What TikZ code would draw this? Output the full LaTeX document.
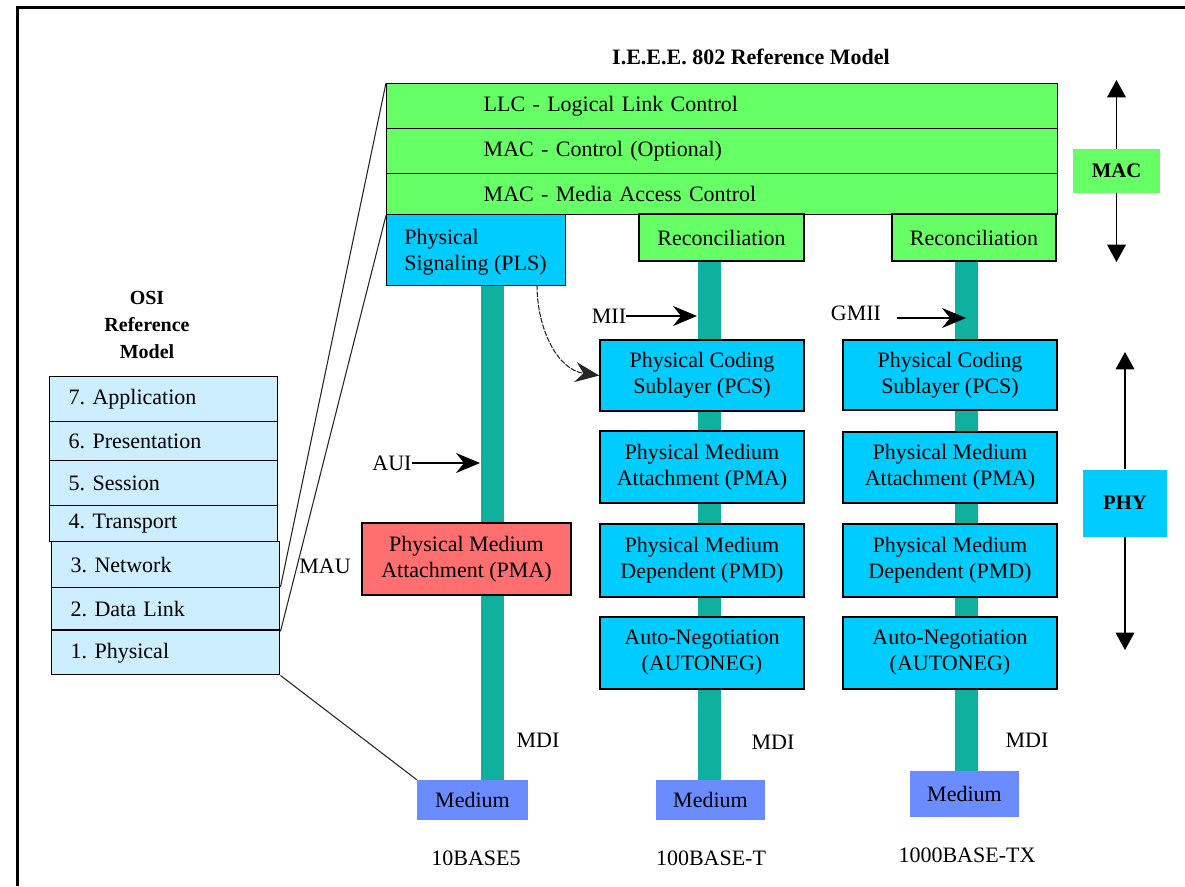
\documentclass[tikz,border=0pt]{standalone}
\usepackage{fontspec}
\setmainfont{Liberation Serif}
\usetikzlibrary{arrows.meta,calc,backgrounds}
\definecolor{macgreen}{HTML}{66FF66}
\definecolor{phyblue}{HTML}{00CCFF}
\definecolor{osiblue}{HTML}{CCEEFF}
\definecolor{medblue}{HTML}{6A8CFF}
\definecolor{maured}{HTML}{FF6F6F}
\definecolor{busteal}{HTML}{10B09E}
\frenchspacing

\tikzset{
  box/.style={draw=black, line width=1.1pt, align=center},
  layerrow/.style={box, fill=macgreen, anchor=north west, text width=357.75pt, inner xsep=72.75pt, align=left, minimum width=503.25pt},
  osirow/.style={box, fill=osiblue, anchor=north west, text width=142.5pt, inner xsep=14.25pt, align=left, minimum width=171pt},
  sublayer/.style={box, fill=phyblue},
  col2/.style={sublayer, minimum width=153pt},
  col3/.style={sublayer, minimum width=160.5pt},
  medium/.style={fill=medblue, align=center},
  bus/.style={line width=17.25pt, draw=busteal},
  link/.style={line width=0.8pt, draw=black!85},
  ifarrow/.style={line width=1pt, -{Stealth[length=18pt,width=15pt,inset=6pt]}},
  rangearrow/.style={line width=1pt, -{Triangle[length=13pt,width=14pt]}},
  heading/.style={font=\fontsize{16.5}{20}\selectfont\bfseries},
  sidetag/.style={font=\fontsize{15.5}{19}\selectfont\bfseries},
}

\begin{document}
\begin{tikzpicture}[x=0.75pt,y=-0.75pt,
  every node/.style={font=\fontsize{16.5}{19.5}\selectfont, inner sep=0pt}]
\useasboundingbox (0,0) rectangle (1185,886);

% frame
\draw[line width=2.25pt] (17,886) -- (17,7) -- (1185,7);

% IEEE 802 stack
\node[heading] (ieee) at (751,57) {I.E.E.E. 802 Reference Model};
\node[layerrow, minimum height=33.75pt] (llc) at (386,83) {LLC - Logical Link Control};
\node[layerrow, minimum height=33.75pt] (macctl) at (386,128) {MAC - Control (Optional)};
\node[layerrow, minimum height=30.75pt] (mac) at (386,173) {MAC - Media Access Control};

\node[sublayer, anchor=north west, minimum width=134.25pt, minimum height=53.25pt] (pls) at (386,214) {};
\node[anchor=west, align=left] (plstext) at (404,252) {Physical\\Signaling (PLS)};
\node[box, fill=macgreen, minimum width=123.75pt, minimum height=35.25pt] (rec1) at (721.5,237.5) {Reconciliation};
\node[box, fill=macgreen, minimum width=123pt, minimum height=35.25pt] (rec2) at (974,237.5) {Reconciliation};

% 10BASE5
\node[box, fill=maured, minimum width=156.75pt, minimum height=54pt] (pma1) at (466.5,559) {Physical Medium\\Attachment (PMA)};

% 100BASE-T
\node[col2, minimum height=53.25pt] (pcs2) at (702,375.5) {Physical Coding\\Sublayer (PCS)};
\node[col2, minimum height=54pt] (pma2) at (702,467) {Physical Medium\\Attachment (PMA)};
\node[col2, minimum height=54.75pt] (pmd2) at (702,560.5) {Physical Medium\\Dependent (PMD)};
\node[col2, minimum height=54pt] (an2) at (702,653) {Auto-Negotiation\\(AUTONEG)};

% 1000BASE-TX
\node[col3, minimum height=52.5pt] (pcs3) at (950,375) {Physical Coding\\Sublayer (PCS)};
\node[col3, minimum height=53.25pt] (pma3) at (950,467.5) {Physical Medium\\Attachment (PMA)};
\node[col3, minimum height=54.75pt] (pmd3) at (950,560.5) {Physical Medium\\Dependent (PMD)};
\node[col3, minimum height=54pt] (an3) at (950,653) {Auto-Negotiation\\(AUTONEG)};

% media
\node[medium, minimum width=83.25pt, minimum height=30pt] (med1) at (472.5,800) {Medium};
\node[medium, minimum width=81.75pt, minimum height=30pt] (med2) at (710.5,800) {Medium};
\node[medium, minimum width=81.75pt, minimum height=34.5pt] (med3) at (964.5,794) {Medium};

% bus bars behind the sublayers
\coordinate (bus1) at (492,0);
\coordinate (bus2) at (709,0);
\coordinate (bus3) at (966,0);
\coordinate (bus1l) at (480,0);
\coordinate (bus2l) at (697,0);
\begin{pgfonlayer}{background}
  \fill[white] (0,0) rectangle (1185,886);
  \draw[bus] (bus1 |- pls.south) -- (bus1 |- med1.north);
  \draw[bus] (bus2 |- rec1.south) -- (bus2 |- med2.north);
  \draw[bus] (bus3 |- rec2.south) -- (bus3 |- med3.north);
\end{pgfonlayer}

% interface labels
\node (aui) at (392,463) {AUI};
\draw[ifarrow] (aui.east) -- (aui.east -| bus1l);
\node (mii) at (609,316) {MII};
\draw[ifarrow] (mii.east) -- (mii.east -| bus2l);
\node (gmii) at (856,313) {GMII};
\coordinate (gmiitail) at (897,318);
\draw[ifarrow] (gmiitail) -- (gmiitail -| bus3);
\node (mau) at (325,566) {MAU};
\node (mdi1) at (538,740) {MDI};
\node (mdi2) at (773,742) {MDI};
\node (mdi3) at (1027,740) {MDI};

\coordinate (plsout) at (537,285);
\draw[link, dash pattern=on 4pt off 1pt, -{Stealth[length=18pt,width=15pt,inset=6pt]}] (plsout) to[out=-90, in=172] (pcs2.west);

% standard names
\node (std1) at (476,858) {10BASE5};
\node (std2) at (711,858) {100BASE-T};
\node (std3) at (967,855) {1000BASE-TX};

% MAC / PHY ranges
\node[sidetag, fill=macgreen, minimum width=65.25pt, minimum height=33pt] (maclbl) at (1116.5,171) {MAC};
\coordinate (mactop) at (1116.5,80);
\coordinate (macbot) at (1116.5,262);
\draw[rangearrow] (maclbl.north) -- (mactop);
\draw[rangearrow] (maclbl.south) -- (macbot);
\node[sidetag, fill=phyblue, minimum width=63pt, minimum height=50.25pt] (phylbl) at (1125,503) {PHY};
\coordinate (phytop) at (1125,352);
\coordinate (phybot) at (1125,650);
\draw[rangearrow] (phylbl.north) -- (phytop);
\draw[rangearrow] (phylbl.south) -- (phybot);

% OSI stack
\node[font=\fontsize{15}{20.5}\selectfont\bfseries, align=center] (osititle) at (147,325) {OSI\\Reference\\Model};
\node[osirow, minimum height=33.75pt] (osi7) at (49,376) {7. Application};
\node[osirow, minimum height=29.25pt] (osi6) at (49,421) {6. Presentation};
\node[osirow, minimum height=33.75pt] (osi5) at (49,460) {5. Session};
\node[osirow, minimum height=27pt] (osi4) at (49,505) {4. Transport};
\node[osirow, minimum height=34.5pt] (osi3) at (51,541) {3. Network};
\node[osirow, minimum height=32.25pt] (osi2) at (51,587) {2. Data Link};
\node[osirow, minimum height=33pt] (osi1) at (51,630) {1. Physical};
\draw[line width=2pt] (osi1.north west) -- (osi1.north east);

% mapping between the two models
\draw[link] (llc.north west) -- (osi2.north east);
\draw[link] (mac.south west) -- (osi2.south east);
\draw[link] (osi1.south east) -- (med1.north west);
\end{tikzpicture}
\end{document}
